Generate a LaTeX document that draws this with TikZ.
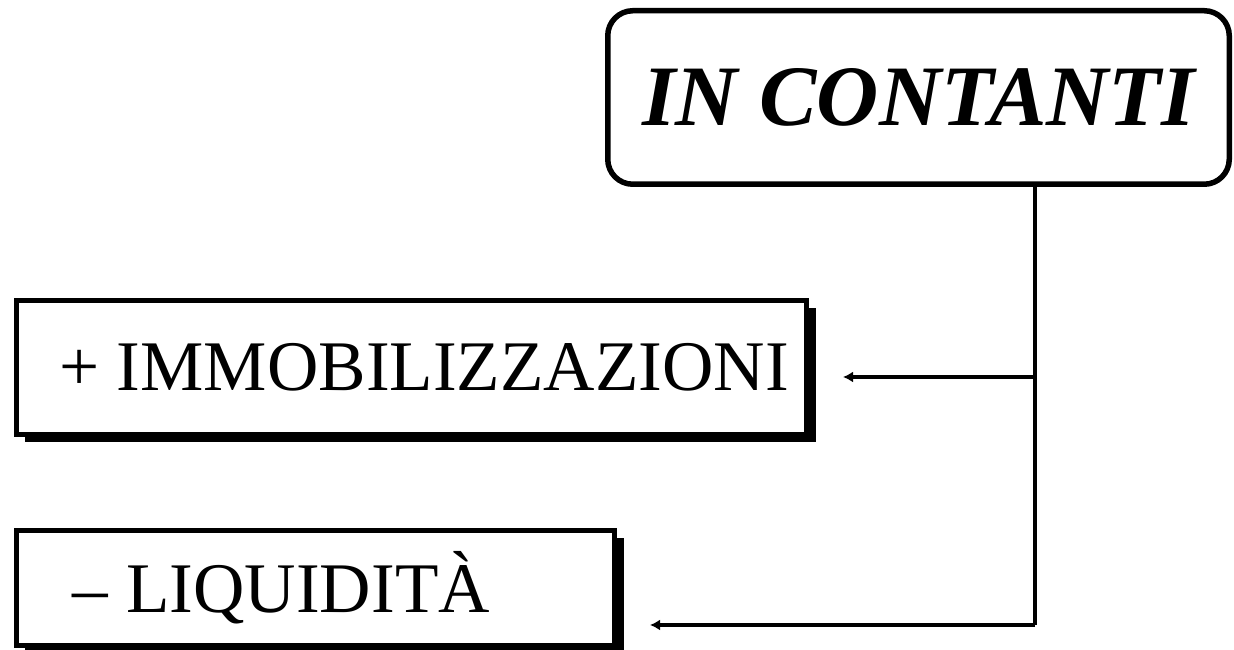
\documentclass[tikz,border=0pt]{standalone}
\usepackage{fontspec}
\setmainfont{Liberation Serif}
\usepackage{tikz}
\usetikzlibrary{calc,shapes,arrows.meta,positioning,shadows}
\tikzset{%
    titlebox/.style={%
        rectangle, rounded corners=0.5cm, draw=black, line width=0.11cm,
        minimum width=12.43cm, minimum height=3.47cm, text centered,
        font=\fontsize{49pt}{56pt}\selectfont\bfseries\itshape
    },
    entry/.style={%
        rectangle, draw=black, line width=0.1cm, fill=white, text centered,
        font=\fontsize{40.5pt}{48pt}\selectfont,
        drop shadow={shadow xshift=0.18cm, shadow yshift=-0.16cm, fill=black, opacity=1}
    },
    link/.style={%
        line width=0.08cm
    },
    com/.style={%
        -{Latex[length=0.2cm, width=0.22cm]}
    },
}
\begin{document}
\begin{tikzpicture}

    \useasboundingbox (0,0) rectangle (24.68,13);

    \node[titlebox] (contanti) at (18.37,11.05) {IN CONTANTI};

    \node[entry, minimum width=15.8cm, minimum height=2.68cm] (immob) at (8.23,5.65) {\hspace{0.5cm}+ IMMOBILIZZAZIONI};
    \node[entry, minimum width=11.96cm, minimum height=2.3cm] (liquid) at (6.31,1.24) {\hspace{-1.36cm}-- LIQUIDITÀ};

    % branch points on the spine
    \coordinate (branchA) at (20.7,5.46);
    \coordinate (branchB) at (20.7,0.5);
    \coordinate (tipA) at ([xshift=0.68cm]immob.east |- branchA);
    \coordinate (tipB) at ([xshift=0.66cm]liquid.east |- branchB);

    \draw[link] (contanti.south -| branchA) -- (branchB);
    \draw[link, com] (branchA) -- (tipA);
    \draw[link, com] (branchB) -- (tipB);

\end{tikzpicture}
\end{document}
